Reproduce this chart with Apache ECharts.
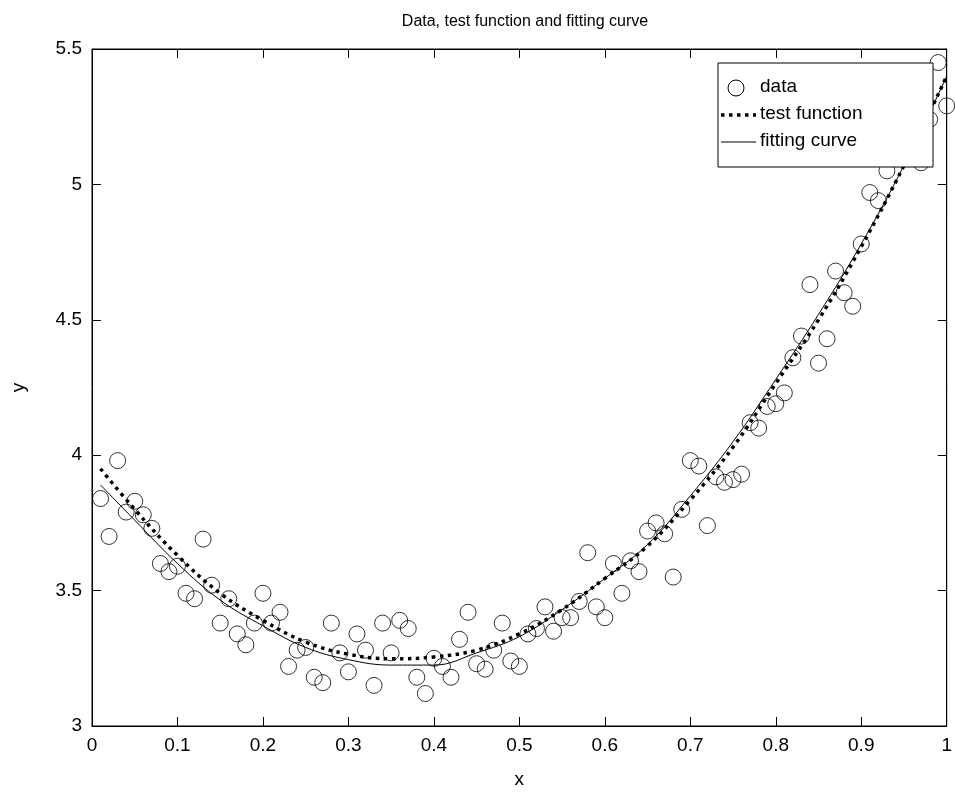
<!DOCTYPE html>
<html>
<head>
<meta charset="utf-8">
<script src="https://cdn.jsdelivr.net/npm/echarts@6/dist/echarts.min.js"></script>
<style>
html,body{margin:0;padding:0;background:#fff;}
#chart{width:955px;height:794px;}
</style>
</head>
<body>
<div id="chart"></div>
<script>
// Data points (x = 0.01 .. 1.00)
const dataX = [];
for (let i = 1; i <= 100; i++) dataX.push(+(i / 100).toFixed(2));
const dataY = [
  3.84, 3.70, 3.98, 3.79, 3.83, 3.78, 3.73, 3.60, 3.57, 3.59,
  3.49, 3.47, 3.69, 3.52, 3.38, 3.47, 3.34, 3.30, 3.38, 3.49,
  3.38, 3.42, 3.22, 3.28, 3.29, 3.18, 3.16, 3.38, 3.27, 3.20,
  3.34, 3.28, 3.15, 3.38, 3.27, 3.39, 3.36, 3.18, 3.12, 3.25,
  3.22, 3.18, 3.32, 3.42, 3.23, 3.21, 3.28, 3.38, 3.24, 3.22,
  3.34, 3.36, 3.44, 3.35, 3.40, 3.40, 3.46, 3.64, 3.44, 3.40,
  3.60, 3.49, 3.61, 3.57, 3.72, 3.75, 3.71, 3.55, 3.80, 3.98,
  3.96, 3.74, 3.92, 3.90, 3.91, 3.93, 4.12, 4.10, 4.18, 4.19,
  4.23, 4.36, 4.44, 4.63, 4.34, 4.43, 4.68, 4.60, 4.55, 4.78,
  4.97, 4.94, 5.05, 5.12, 5.15, 5.20, 5.08, 5.24, 5.45, 5.29
];

// Curves sampled at these x
const curveX = [0.01, 0.05, 0.10, 0.15, 0.20, 0.25, 0.30, 0.35, 0.40, 0.45, 0.50,
                0.55, 0.60, 0.65, 0.70, 0.75, 0.80, 0.85, 0.90, 0.95, 1.00];
const testY  = [3.95, 3.80, 3.63, 3.49, 3.39, 3.31, 3.265, 3.248, 3.255, 3.28, 3.34,
                3.43, 3.545, 3.665, 3.835, 4.03, 4.265, 4.50, 4.77, 5.07, 5.40];
const fitY   = [3.89, 3.76, 3.60, 3.465, 3.37, 3.29, 3.245, 3.225, 3.225, 3.27, 3.33,
                3.43, 3.545, 3.67, 3.85, 4.05, 4.28, 4.52, 4.78, 5.07, 5.40];

const legendNames = ['data', 'test function', 'fitting curve'];
const titleText = 'Data, test function and fitting curve';

const FONT = 'Liberation Sans, Arial, sans-serif';
const pts = dataX.map((x, i) => [x, dataY[i]]);
const testPts = curveX.map((x, i) => [x, testY[i]]);
const fitPts = curveX.map((x, i) => [x, fitY[i]]);

const chart = echarts.init(document.getElementById('chart'), null, {renderer: 'canvas'});
const axisLine = {show: true, onZero: false, lineStyle: {color: '#000', width: 1}};
const tick = {show: true, inside: true, length: 9, lineStyle: {color: '#000', width: 1}};
const lab = {color: '#000', fontSize: 19, fontFamily: FONT};

// Legend box drawn as graphic (MATLAB style)
const LX = 718, LY = 63, LW = 215, LH = 104;
const rowY = [LY + 25, LY + 52, LY + 79];
const txt = (t, y) => ({
  type: 'text', left: LX + 42, top: y - 11, z: 101,
  style: {text: t, fontSize: 19, fill: '#000', fontFamily: FONT}
});

chart.setOption({
  animation: false,
  backgroundColor: '#fff',
  title: {
    text: titleText,
    left: 520, top: 9, textAlign: 'center',
    textStyle: {fontSize: 16, fontWeight: 'normal', color: '#000', fontFamily: FONT}
  },
  grid: {left: 92, right: 6, top: 49, bottom: 68, show: true, borderColor: '#000', borderWidth: 1},
  graphic: [
    {type: 'rect', shape: {x: LX, y: LY, width: LW, height: LH}, z: 100,
     style: {fill: '#fff', stroke: '#000', lineWidth: 1}},
    {type: 'circle', shape: {cx: LX + 18, cy: rowY[0], r: 8}, z: 101,
     style: {fill: 'none', stroke: '#000', lineWidth: 1}},
    {type: 'line', shape: {x1: LX + 3, y1: rowY[1], x2: LX + 38, y2: rowY[1]}, z: 101,
     style: {stroke: '#000', lineWidth: 3.5, lineDash: [3.5, 4.5]}},
    {type: 'line', shape: {x1: LX + 3, y1: rowY[2], x2: LX + 38, y2: rowY[2]}, z: 101,
     style: {stroke: '#000', lineWidth: 1}},
    txt(legendNames[0], rowY[0]),
    txt(legendNames[1], rowY[1]),
    txt(legendNames[2], rowY[2])
  ],
  xAxis: [{
    type: 'value', min: 0, max: 1, interval: 0.1,
    name: 'x', nameLocation: 'middle', nameGap: 44,
    nameTextStyle: {fontSize: 19, color: '#000', fontFamily: FONT},
    axisLine, axisTick: tick, splitLine: {show: false},
    axisLabel: Object.assign({margin: 10, formatter: v => String(+v.toFixed(1))}, lab)
  }, {
    type: 'value', min: 0, max: 1, interval: 0.1, position: 'top',
    axisLine, axisTick: tick, splitLine: {show: false}, axisLabel: {show: false}
  }],
  yAxis: [{
    type: 'value', min: 3, max: 5.5, interval: 0.5, position: 'left',
    name: 'y', nameLocation: 'middle', nameGap: 64,
    nameTextStyle: {fontSize: 19, color: '#000', fontFamily: FONT},
    axisLine, axisTick: tick, splitLine: {show: false},
    axisLabel: Object.assign({margin: 10, formatter: v => String(+v.toFixed(1))}, lab)
  }, {
    type: 'value', min: 3, max: 5.5, interval: 0.5, position: 'right',
    axisLine, axisTick: tick, splitLine: {show: false}, axisLabel: {show: false}
  }],
  series: [{
    name: legendNames[0], type: 'scatter', data: pts,
    symbol: 'circle', symbolSize: 16,
    itemStyle: {color: 'rgba(0,0,0,0)', borderColor: '#000', borderWidth: 1}
  }, {
    name: legendNames[1], type: 'line', data: testPts, smooth: 0.4,
    showSymbol: false, symbol: 'none', itemStyle: {color: '#000'},
    lineStyle: {color: '#000', width: 3.5, type: [3.5, 4.5], cap: 'butt'}
  }, {
    name: legendNames[2], type: 'line', data: fitPts, smooth: 0.4,
    showSymbol: false, symbol: 'none', itemStyle: {color: '#000'},
    lineStyle: {color: '#000', width: 1}
  }]
});
</script>
</body>
</html>
